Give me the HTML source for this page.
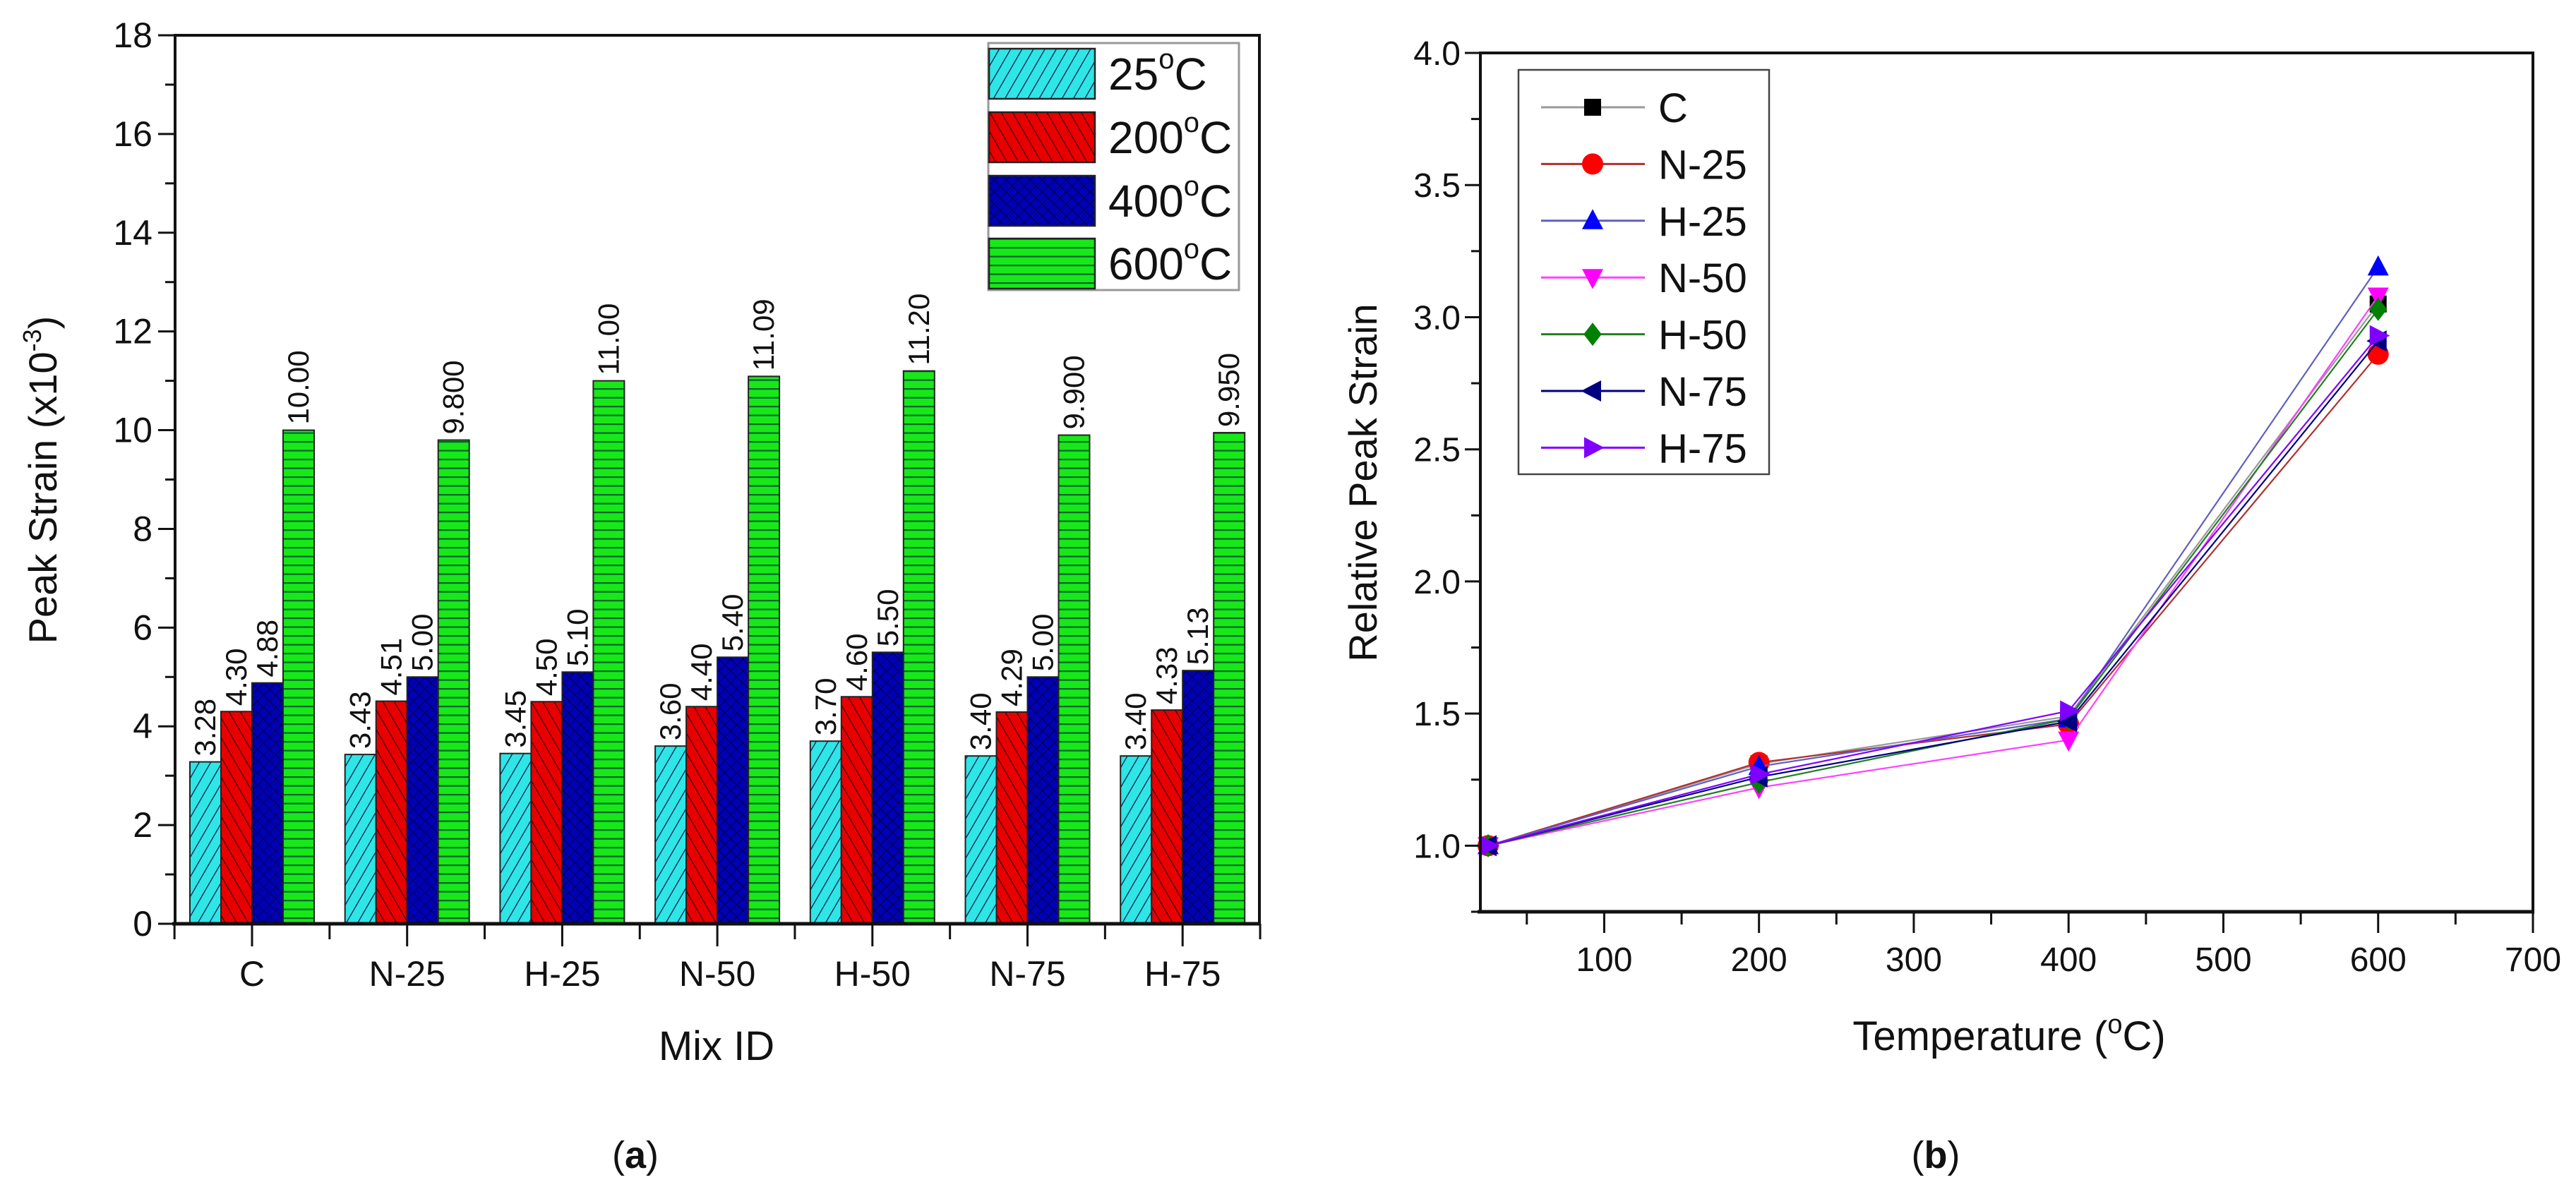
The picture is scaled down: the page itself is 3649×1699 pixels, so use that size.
<!DOCTYPE html>
<html><head><meta charset="utf-8"><style>
html,body{margin:0;padding:0;background:#fff;}
svg{display:block;}
text{font-family:"Liberation Sans Narrow","Liberation Sans",sans-serif;fill:#111;}
.v{font-family:"Liberation Sans",sans-serif;}
</style></head><body>
<svg id="fig" width="3649" height="1699" viewBox="0 0 3649 1699" xmlns="http://www.w3.org/2000/svg">
<defs>
<pattern id="p25" patternUnits="userSpaceOnUse" width="14" height="14" patternTransform="rotate(30)"><rect width="14" height="14" fill="#2ee6e6"/><line x1="0" y1="0" x2="0" y2="14" stroke="#114" stroke-width="2.5"/></pattern>
<pattern id="p200" patternUnits="userSpaceOnUse" width="14" height="14" patternTransform="rotate(-30)"><rect width="14" height="14" fill="#e80000"/><line x1="0" y1="0" x2="0" y2="14" stroke="#400" stroke-width="2.5"/></pattern>
<pattern id="p400" patternUnits="userSpaceOnUse" width="12" height="12" patternTransform="rotate(45)"><rect width="12" height="12" fill="#0000b4"/><line x1="0" y1="0" x2="0" y2="12" stroke="#002" stroke-width="1.5"/><line x1="0" y1="0" x2="12" y2="0" stroke="#002" stroke-width="1.5"/></pattern>
<pattern id="p600" patternUnits="userSpaceOnUse" width="12" height="12.5"><rect width="12" height="12.5" fill="#18e818"/><line x1="0" y1="1" x2="12" y2="1" stroke="#063" stroke-width="2.5"/></pattern>
</defs>
<g id="left"></g>
<g id="right"></g>
</svg>
<script>
// ---------- chart (a) data ----------
const mixIds = ["C","N-25","H-25","N-50","H-50","N-75","H-75"];
const temps = ["25","200","400","600"];
const s25 = [3.28,3.43,3.45,3.60,3.70,3.40,3.40];
const s200 = [4.30,4.51,4.50,4.40,4.60,4.29,4.33];
const s400 = [4.88,5.00,5.10,5.40,5.50,5.00,5.13];
const s600 = [10.00,9.80,11.00,11.09,11.20,9.90,9.95];
const lab25 = ["3.28","3.43","3.45","3.60","3.70","3.40","3.40"];
const lab200 = ["4.30","4.51","4.50","4.40","4.60","4.29","4.33"];
const lab400 = ["4.88","5.00","5.10","5.40","5.50","5.00","5.13"];
const lab600 = ["10.00","9.800","11.00","11.09","11.20","9.900","9.950"];
const yTicksA = [0,2,4,6,8,10,12,14,16,18];
// ---------- chart (b) data ----------
const tempX = [25,200,400,600];
const seriesNames = ["C","N-25","H-25","N-50","H-50","N-75","H-75"];
const relC = [1,1.31,1.49,3.05];
const relN25 = [1,1.315,1.46,2.86];
const relH25 = [1,1.30,1.48,3.19];
const relN50 = [1,1.22,1.40,3.08];
const relH50 = [1,1.24,1.48,3.03];
const relN75 = [1,1.26,1.47,2.91];
const relH75 = [1,1.27,1.51,2.93];
const xTicksB = [100,200,300,400,500,600,700];
const yTicksB = [1.0,1.5,2.0,2.5,3.0,3.5,4.0];

const NS="http://www.w3.org/2000/svg";
function mk(parent,tag,attrs,txt){const e=document.createElementNS(NS,tag);for(const k in attrs)e.setAttribute(k,attrs[k]);if(txt!==undefined)e.textContent=txt;parent.appendChild(e);return e;}

// ===== chart a =====
const L=document.getElementById('left');
const aL=248,aR=1784,aT=50,aB=1309,yMaxA=18;
const yA=v=>aB-(aB-aT)*v/yMaxA;
const step=219.7, c0=357;
const xC=i=>c0+i*step;
const bw=44;
const sets=[[s25,lab25,'url(#p25)'],[s200,lab200,'url(#p200)'],[s400,lab400,'url(#p400)'],[s600,lab600,'url(#p600)']];
sets.forEach((st,j)=>{
  st[0].forEach((v,i)=>{
    const x=xC(i)-2*bw+j*bw;
    const r=mk(L,'rect',{x:x,y:yA(v),width:bw,height:aB-yA(v),fill:st[2],stroke:'#222','stroke-width':2});
    
    
    const cx=x+bw/2+14, cy=yA(v)-8;
    const t=mk(L,'text',{x:cx,y:cy,'font-size':42,class:'v',transform:`rotate(-90 ${cx} ${cy})`},st[1][i]);
    
    
  });
});
// frame
const fA=mk(L,'rect',{x:aL,y:aT,width:aR-aL,height:aB-aT,fill:'none',stroke:'#111','stroke-width':4});


mk(L,'line',{x1:aL-4,y1:aB,x2:aR+2,y2:aB,stroke:'#111','stroke-width':5});
// y ticks
for(let v=0;v<=18;v++){const y=yA(v);mk(L,'line',{x1:aL-(v%2?14:24),y1:y,x2:aL,y2:y,stroke:'#111','stroke-width':3});}
yTicksA.forEach(v=>{const t=mk(L,'text',{x:aL-32,y:yA(v)+17,'font-size':50,'text-anchor':'end'},String(v));
});
// x ticks
for(let i=0;i<=7;i++){const x=xC(i)-step/2;mk(L,'line',{x1:x,y1:aB,x2:x,y2:aB+22,stroke:'#111','stroke-width':3});}
mixIds.forEach((m,i)=>{mk(L,'line',{x1:xC(i),y1:aB,x2:xC(i),y2:aB+32,stroke:'#111','stroke-width':3});
const t=mk(L,'text',{x:xC(i),y:1397,'font-size':50,'text-anchor':'middle'},m);
});
const xtA=mk(L,'text',{x:1015,y:1502,'font-size':58,'text-anchor':'middle'},'Mix ID');

const ytA=mk(L,'text',{x:80,y:680,'font-size':56,'text-anchor':'middle',class:'v',transform:'rotate(-90 80 680)'});

ytA.innerHTML='Peak Strain (x10<tspan dy="-22" font-size="36">-3</tspan><tspan dy="22">)</tspan>';
const capA=mk(L,'text',{x:900,y:1655,'font-size':54,'text-anchor':'middle','font-family':'Liberation Serif, serif'});

capA.innerHTML='(<tspan font-weight="bold">a</tspan>)';
// legend a
const lgA=mk(L,'g',{});

mk(lgA,'rect',{x:1400,y:61,width:355,height:350,fill:'#fff',stroke:'#999','stroke-width':3});
const lys=[69,159,249,338];
temps.forEach((tp,j)=>{
  const g=mk(lgA,'g',{});
  
  
  mk(g,'rect',{x:1401,y:lys[j],width:150,height:71,fill:sets[j][2],stroke:'#222','stroke-width':2.5});
  const t=mk(g,'text',{x:1570,y:lys[j]+58,'font-size':64});
  t.innerHTML=tp+'<tspan dy="-30" font-size="40">o</tspan><tspan dy="30">C</tspan>';
});

// ===== chart b =====
const R=document.getElementById('right');
const bL=2097,bR=3588,bT=75,bB=1292,xMin=20,xMax=700,yMin=0.75,yMax=4.0;
const xB=v=>bL+(bR-bL)*(v-xMin)/(xMax-xMin);
const yB=v=>bB-(bB-bT)*(v-yMin)/(yMax-yMin);
const series=[relC,relN25,relH25,relN50,relH50,relN75,relH75];
const colors=['#000','#ff0000','#0000ff','#ff00ff','#008000','#000080','#8000ff'];
const lineCols=['#999','#b03030','#6060c0','#ff40ff','#208020','#000080','#8000ff'];
const shapes=['sq','ci','tu','td','di','tl','tr'];
function marker(g,s,x,y,c,r){
  if(s==='sq')return mk(g,'rect',{x:x-r*0.8,y:y-r*0.8,width:r*1.6,height:r*1.6,fill:c});
  if(s==='ci')return mk(g,'circle',{cx:x,cy:y,r:r,fill:c});
  let p;
  if(s==='tu')p=[[x,y-r*1.1],[x+r,y+r*0.8],[x-r,y+r*0.8]];
  if(s==='td')p=[[x,y+r*1.1],[x+r,y-r*0.8],[x-r,y-r*0.8]];
  if(s==='di')p=[[x,y-r*1.1],[x+r*0.85,y],[x,y+r*1.1],[x-r*0.85,y]];
  if(s==='tl')p=[[x-r*1.1,y],[x+r*0.8,y-r],[x+r*0.8,y+r]];
  if(s==='tr')p=[[x+r*1.1,y],[x-r*0.8,y-r],[x-r*0.8,y+r]];
  return mk(g,'polygon',{points:p.map(q=>q.join(',')).join(' '),fill:c});
}
series.forEach((arr,k)=>{
  const g=mk(R,'g',{});
  
  
  mk(g,'polyline',{points:arr.map((v,i)=>xB(tempX[i])+','+yB(v)).join(' '),fill:'none',stroke:lineCols[k],'stroke-width':2.2});
  arr.forEach((v,i)=>{const m=marker(g,shapes[k],xB(tempX[i]),yB(v),colors[k],15);
    
    });
});
const fB=mk(R,'rect',{x:bL,y:bT,width:bR-bL,height:bB-bT,fill:'none',stroke:'#111','stroke-width':4});

mk(R,'line',{x1:bL-4,y1:bB,x2:bR+2,y2:bB,stroke:'#111','stroke-width':5});
for(let v=0.75;v<=4.001;v+=0.25){const y=yB(v);const maj=Math.abs(v*2-Math.round(v*2))<1e-6;mk(R,'line',{x1:bL-(maj?22:13),y1:y,x2:bL,y2:y,stroke:'#111','stroke-width':3});}
yTicksB.forEach(v=>{const t=mk(R,'text',{x:bL-28,y:yB(v)+17,'font-size':48,'text-anchor':'end'},v.toFixed(1));
});
for(let v=50;v<=700;v+=50){const x=xB(v);const maj=v%100===0;mk(R,'line',{x1:x,y1:bB,x2:x,y2:bB+(maj?30:18),stroke:'#111','stroke-width':3});}
xTicksB.forEach(v=>{const t=mk(R,'text',{x:xB(v),y:1376,'font-size':48,'text-anchor':'middle'},String(v));
});
const xtB=mk(R,'text',{x:2846,y:1488,'font-size':58,'text-anchor':'middle'});

xtB.innerHTML='Temperature (<tspan dy="-24" font-size="38">o</tspan><tspan dy="24">C)</tspan>';
const ytB=mk(R,'text',{x:1950,y:684,'font-size':56,'text-anchor':'middle',class:'v',transform:'rotate(-90 1950 684)'},'Relative Peak Strain');

const capB=mk(R,'text',{x:2742,y:1655,'font-size':54,'text-anchor':'middle','font-family':'Liberation Serif, serif'});

capB.innerHTML='(<tspan font-weight="bold">b</tspan>)';
const lgB=mk(R,'g',{});

mk(lgB,'rect',{x:2151,y:99,width:355,height:573,fill:'#fff',stroke:'#444','stroke-width':2.5});
seriesNames.forEach((n,k)=>{
  const y=152+k*80.4;
  const g=mk(lgB,'g',{});
  
  
  mk(g,'line',{x1:2183,y1:y,x2:2330,y2:y,stroke:lineCols[k],'stroke-width':3});
  marker(g,shapes[k],2256,y,colors[k],15);
  mk(g,'text',{x:2349,y:y+21,'font-size':58},n);
});
</script>
</body></html>
